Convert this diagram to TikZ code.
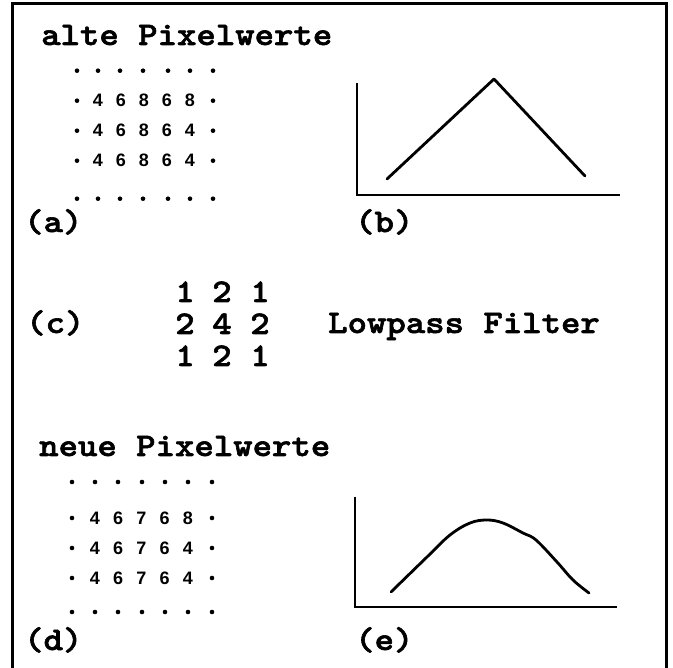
\documentclass[tikz,border=0pt]{standalone}
\usepackage{fontspec}
\newfontfamily\labelfont{lmmonolt10-bold}[Extension=.otf, FakeStretch=1.12, FakeBold=1.8]
\newfontfamily\digitfont{Liberation Sans}
\usepackage{tikz}
\usetikzlibrary{positioning}

\begin{document}
\begin{tikzpicture}[
    x=1pt, y=-1pt,
    title/.style={font=\labelfont\fontsize{33}{33}\selectfont, inner sep=0pt, anchor=base west},
    tag/.style={font=\labelfont\fontsize{33}{33}\selectfont, inner sep=0pt, anchor=base west},
    coef/.style={font=\labelfont\fontsize{33}{33}\selectfont, inner sep=0pt, anchor=base},
    pix/.style={font=\digitfont\bfseries\fontsize{18}{18}\selectfont, inner sep=0pt},
    pt/.style={circle, fill=black, inner sep=0pt, minimum size=4.6pt},
    axis/.style={line width=2.4pt},
    curve/.style={line width=2.8pt, line join=round, line cap=round}
]
\useasboundingbox (0,0) rectangle (673,668);

% frame (open at the bottom)
\draw[line width=2.4pt] (12.5,668) -- (12.5,3.5) -- (666.5,3.5) -- (666.5,668);

% (a) old pixel values
\node[title] at (41,45) (oldtitle) {alte Pixelwerte};
\foreach \c/\x in {1/77,2/98,3/120,4/143,5/168,6/190,7/213} {
    \node[pt] at (\x,70.7) (atop\c) {};
    \node[pt] at (\x,198.7) (abot\c) {};
}
\foreach \r/\y/\vals in {1/100.7/{4,6,8,6,8}, 2/130.7/{4,6,8,6,4}, 3/160.7/{4,6,8,6,4}} {
    \node[pt] at (77,\y) (al\r) {};
    \node[pt] at (213,\y) (ar\r) {};
    \foreach \v [count=\c] in \vals {
        \pgfmathsetmacro{\xx}{98+(\c-1)*23}
        \node[pix] at (\xx,\y) (a\r\c) {\v};
    }
}
\node[tag] at (24,232) (taga) {(a)};

% (b) profile before
\coordinate (borig) at (357,195);
\draw[axis] (357,83) -- (borig) -- (620,195);
\draw[curve] (387,179) -- (494,79) -- (585,176);
\node[tag] at (355,232) (tagb) {(b)};

% (c) filter kernel
\node[tag] at (26,333) (tagc) {(c)};
\node[coef] at (185,302) (k11) {1};
\node[coef] at (222,302) (k12) {2};
\node[coef] at (260,302) (k13) {1};
\node[coef] at (185,334) (k21) {2};
\node[coef] at (222,334) (k22) {4};
\node[coef] at (260,334) (k23) {2};
\node[coef] at (185,366) (k31) {1};
\node[coef] at (222,366) (k32) {2};
\node[coef] at (260,366) (k33) {1};
\node[tag] at (328,333) (lowpass) {Lowpass Filter};

% (d) new pixel values
\node[title] at (39,456) (newtitle) {neue Pixelwerte};
\foreach \c/\x in {1/72,2/95,3/118,4/142,5/165,6/188,7/212} {
    \node[pt] at (\x,482) (dtop\c) {};
    \node[pt] at (\x,612) (dbot\c) {};
}
\foreach \r/\y/\vals in {1/518/{4,6,7,6,8}, 2/548/{4,6,7,6,4}, 3/578/{4,6,7,6,4}} {
    \node[pt] at (72,\y) (dl\r) {};
    \node[pt] at (212,\y) (dr\r) {};
    \foreach \v [count=\c] in \vals {
        \pgfmathsetmacro{\xx}{95+(\c-1)*23.2}
        \node[pix] at (\xx,\y) (d\r\c) {\v};
    }
}
\node[tag] at (24,650) (tagd) {(d)};

% (e) profile after
\coordinate (eorig) at (355,607);
\draw[axis] (355,497) -- (eorig) -- (617,607);
\draw[curve] plot[smooth, tension=0.6] coordinates {(391,592) (427,557) (450,535) (470,523) (487,520)
    (503,523) (523,533) (536,540) (557,562) (573,580) (589,593)};
\node[tag] at (355,650) (tage) {(e)};

\end{tikzpicture}
\end{document}
